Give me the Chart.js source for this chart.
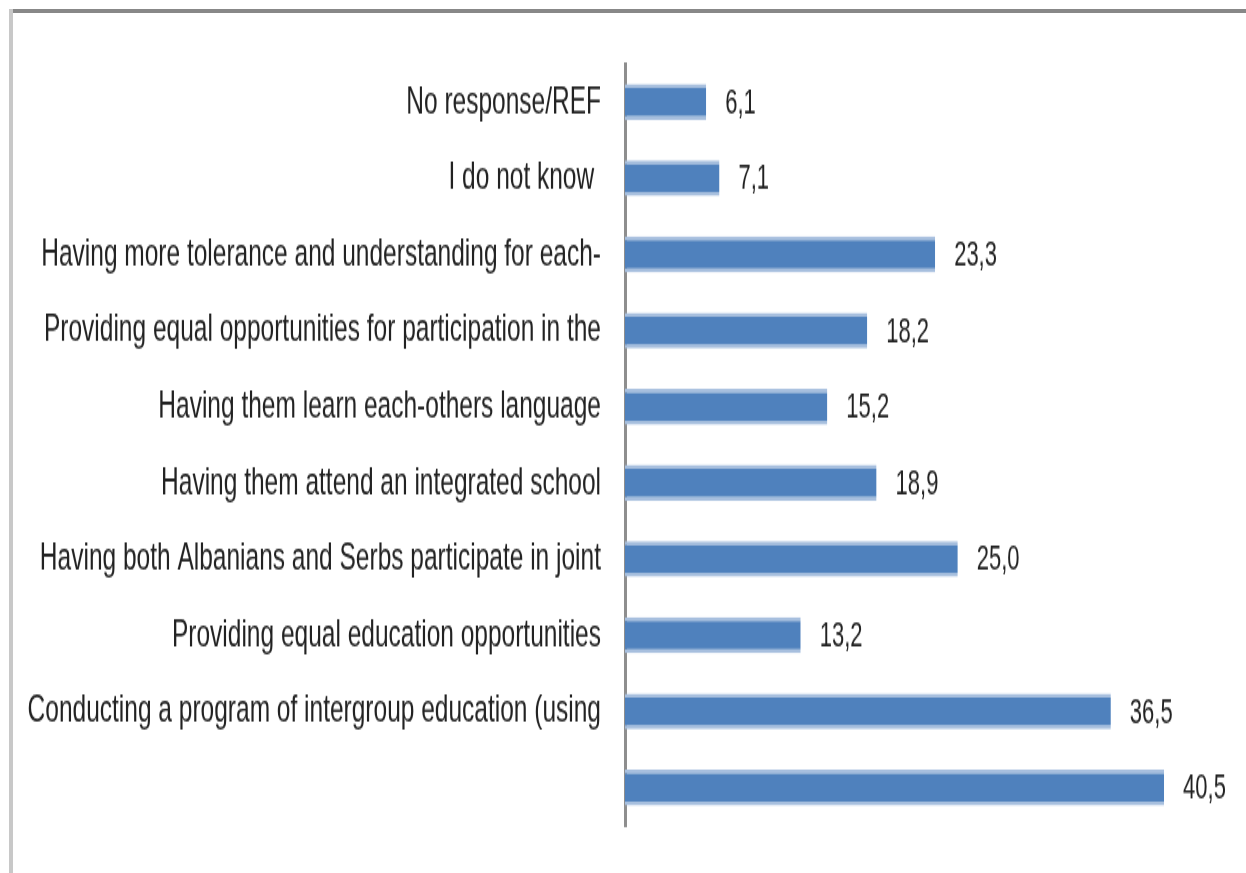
<!DOCTYPE html>
<html>
<head>
<meta charset="utf-8">
<script src="https://cdn.jsdelivr.net/npm/chart.js@4/dist/chart.umd.min.js"></script>
<style>
  html, body { margin: 0; padding: 0; background: #fff; }
  body { width: 1246px; height: 873px; position: relative; overflow: hidden; }
  #frameTop { position: absolute; left: 12px; top: 9px; width: 1234px; height: 4px; background: #888; }
  #frameLeft { position: absolute; left: 9px; top: 9px; width: 4px; height: 864px; background: #c8c8c8; }
  /* chart is drawn short and stretched vertically, like the tall narrow lettering of the original export */
  #wrap { position: absolute; left: 0; top: 0; width: 1246px; height: 546px; transform: scaleY(1.6); transform-origin: 0 0; }
</style>
</head>
<body>
<div id="frameTop"></div>
<div id="frameLeft"></div>
<div id="wrap"><canvas id="answers" width="1246" height="546"></canvas></div>
<script>
const categories = [
  "No response/REF",
  "I do not know ",
  "Having more tolerance and understanding for each-",
  "Providing equal opportunities for participation in the",
  "Having them learn each-others language",
  "Having them attend an integrated school",
  "Having both Albanians and Serbs participate in joint",
  "Providing equal education opportunities",
  "Conducting a program of intergroup education (using",
  ""
];
const percents = [6.1, 7.1, 23.3, 18.2, 15.2, 18.9, 25.0, 13.2, 36.5, 40.5];

const FONT = "'Liberation Sans', Arial, sans-serif";

function fmt(v) {
  return v.toFixed(1).replace(".", ",");
}

// numbers printed just past the end of each bar
const valueLabels = {
  id: "valueLabels",
  afterDatasetsDraw(chart) {
    const ctx = chart.ctx;
    const meta = chart.getDatasetMeta(0);
    ctx.save();
    ctx.font = "22px " + FONT;
    ctx.fillStyle = "#222";
    ctx.textAlign = "left";
    ctx.textBaseline = "middle";
    meta.data.forEach((bar, i) => {
      ctx.fillText(fmt(percents[i]), bar.x + 19, bar.y + 1);
    });
    ctx.restore();
  }
};

const chart = new Chart(document.getElementById("answers"), {
  type: "bar",
  data: {
    labels: categories,
    datasets: [{
      data: percents,
      backgroundColor: "#4f81bd",
      borderColor: "#a7bfde",
      borderWidth: { top: 2.5, bottom: 2.5, left: 0, right: 0 },
      borderSkipped: false,
      barPercentage: 0.47,
      categoryPercentage: 1
    }]
  },
  options: {
    indexAxis: "y",
    responsive: false,
    animation: false,
    layout: { padding: { top: 40, bottom: 30, right: 22, left: 0 } },
    plugins: {
      legend: { display: false },
      tooltip: { enabled: false }
    },
    scales: {
      x: {
        display: false,
        min: 0,
        max: 45
      },
      y: {
        grid: { display: false, drawTicks: false },
        border: { display: true, color: "#8e8e8e", width: 3 },
        ticks: {
          padding: 24,
          color: "#222",
          font: { family: FONT, size: 24.5 }
        },
        afterFit(scale) {
          scale.width = 625;
          // keep the label padding from eating into the plot height
          scale.paddingTop = 0;
          scale.paddingBottom = 0;
        }
      }
    }
  },
  plugins: [valueLabels]
});
</script>
</body>
</html>
